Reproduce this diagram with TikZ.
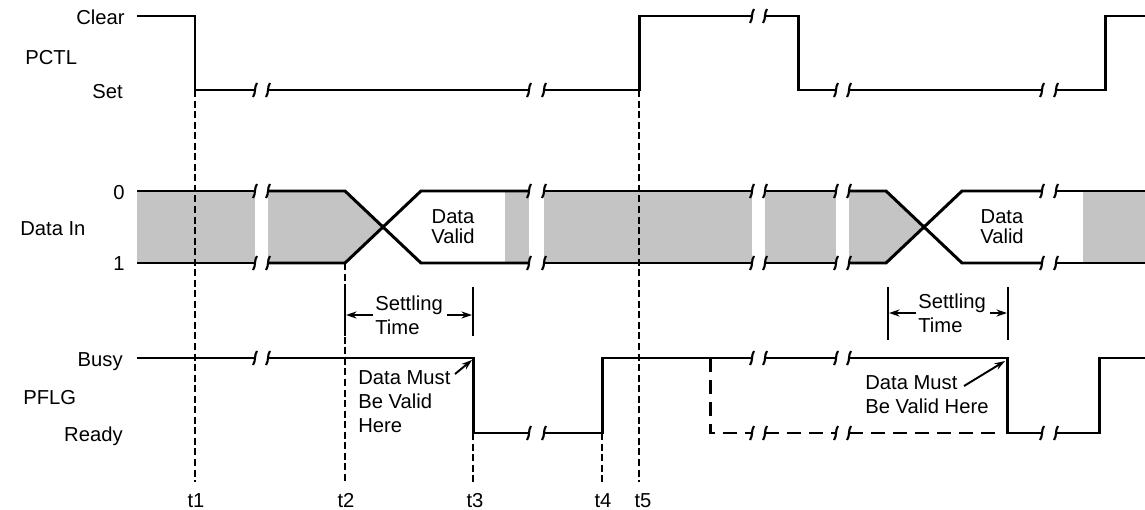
\documentclass[tikz,border=0pt]{standalone}
\usepackage{fontspec}
\setmainfont{Liberation Sans}
\usetikzlibrary{arrows.meta}

% break mark on a signal line
\newcommand{\brk}[2]{\draw[tick] (#1-2,#2+7) .. controls (#1+1,#2+3) and (#1-1,#2-3) .. (#1+2,#2-7);}

\begin{document}
\begin{tikzpicture}[x=0.02cm, y=-0.02cm,
    sig/.style={line width=1.7pt},
    altline/.style={line width=1.7pt, dash pattern=on 8pt off 4.5pt},
    tick/.style={line width=1.2pt},
    timeline/.style={line width=0.6pt, dash pattern=on 4pt off 2pt},
    bar/.style={line width=1.3pt},
    shade/.style={fill=black!23},
    ptr/.style={line width=1.1pt, -{Stealth[length=6pt, width=4pt]}},
    lbl/.style={font=\fontsize{11.5}{13.6}\selectfont, inner sep=0pt, text height=8.2pt, text depth=0pt},
    note/.style={font=\fontsize{11.5}{13.6}\selectfont, inner sep=0pt, align=left}]

        \useasboundingbox (0,0) rectangle (1145,510);

        % Signal names and levels
        \node[lbl, anchor=east] (clear) at (125,17) {Clear};
        \node[lbl, anchor=west] (pctl) at (25,57) {PCTL};
        \node[lbl, anchor=east] (set) at (123,91) {Set};
        \node[lbl, anchor=east] (zero) at (125,192) {0};
        \node[lbl, anchor=west] (datain) at (20,228) {Data In};
        \node[lbl, anchor=east] (one) at (125,263) {1};
        \node[lbl, anchor=east] (busy) at (123,359) {Busy};
        \node[lbl, anchor=west] (pflg) at (23,397) {PFLG};
        \node[lbl, anchor=east] (ready) at (123,434) {Ready};

        % Shaded data (not valid)
        \fill[shade] (137,191) rectangle (255,263);
        \fill[shade] (268,191) -- (345,191) -- (383,227) -- (345,263) -- (268,263) -- cycle;
        \fill[shade] (505,191) rectangle (529,263);
        \fill[shade] (544,191) rectangle (752,263);
        \fill[shade] (765,191) rectangle (836,263);
        \fill[shade] (849,191) -- (886,191) -- (924,227) -- (886,263) -- (849,263) -- cycle;
        \fill[shade] (1083,191) rectangle (1145,263);

        % PCTL
        \draw[sig] (137,16) -- (195,16) -- (195,90) -- (255,90);
        \draw[sig] (268,90) -- (529,90);
        \draw[sig] (544,90) -- (639,90) -- (639,16) -- (752,16);
        \draw[sig] (765,16) -- (798,16) -- (798,90) -- (836,90);
        \draw[sig] (849,90) -- (1042,90);
        \draw[sig] (1056,90) -- (1105,90) -- (1105,16) -- (1145,16);
        \brk{255}{90} \brk{268}{90} \brk{529}{90} \brk{544}{90} \brk{752}{16}
        \brk{765}{16} \brk{836}{90} \brk{849}{90} \brk{1042}{90} \brk{1056}{90}

        % Data In
        \foreach \y in {191,263} {
            \draw[sig] (137,\y) -- (255,\y);
            \draw[sig] (544,\y) -- (752,\y);
            \draw[sig] (765,\y) -- (836,\y);
            \draw[sig] (1056,\y) -- (1145,\y);
            \foreach \x in {255,268,529,544,752,765,836,849,1042,1056} {\brk{\x}{\y}}
        }
        \draw[sig] (268,191) -- (345,191) -- (421,263) -- (529,263);
        \draw[sig] (268,263) -- (345,263) -- (421,191) -- (529,191);
        \draw[sig] (849,191) -- (886,191) -- (962,263) -- (1042,263);
        \draw[sig] (849,263) -- (886,263) -- (962,191) -- (1042,191);
        \node[note, align=center, font=\fontsize{11.5}{11.3}\selectfont] (valida) at (453,227) {Data\\Valid};
        \node[note, align=center, font=\fontsize{11.5}{11.3}\selectfont] (validb) at (1002,227) {Data\\Valid};

        % PFLG
        \draw[sig] (137,358) -- (255,358);
        \draw[sig] (268,358) -- (473,358) -- (473,433) -- (529,433);
        \draw[sig] (544,433) -- (602,433) -- (602,358) -- (752,358);
        \draw[sig] (765,358) -- (836,358);
        \draw[sig] (849,358) -- (1007,358) -- (1007,433) -- (1042,433);
        \draw[sig] (1056,433) -- (1099,433) -- (1099,358) -- (1145,358);
        \brk{255}{358} \brk{268}{358} \brk{529}{433} \brk{544}{433} \brk{752}{358}
        \brk{765}{358} \brk{836}{358} \brk{849}{358} \brk{1042}{433} \brk{1056}{433}
        \draw[altline] (710,358) -- (710,433) -- (752,433); % other case
        \draw[altline] (765,433) -- (836,433);
        \draw[altline] (849,433) -- (1000,433);
        \brk{752}{433} \brk{765}{433} \brk{836}{433} \brk{849}{433}

        % Settling time
        \draw[bar] (345,287) -- (345,336);
        \draw[bar] (473,287) -- (473,336);
        \draw[bar] (888,287) -- (888,340);
        \draw[bar] (1008,287) -- (1008,340);
        \node[note, anchor=west] (settlea) at (375,315) {Settling\\Time};
        \node[note, anchor=west] (settleb) at (918,313) {Settling\\Time};
        \draw[ptr] ([xshift=-1pt]settlea.west) -- (346,315);
        \draw[ptr] ([xshift=2pt]settlea.east) -- (472,315);
        \draw[ptr] ([xshift=-1pt]settleb.west) -- (889,313);
        \draw[ptr] ([xshift=2pt]settleb.east) -- (1007,313);

        % Data must be valid
        \node[note, anchor=north west] (musta) at (358,370) {Data Must\\Be Valid\\Here};
        \node[note, anchor=north west] (mustb) at (865,375) {Data Must\\Be Valid Here};
        \coordinate (cornera) at (472,360);
        \coordinate (cornerb) at (1005,361);
        \coordinate (taila) at (455,374);
        \coordinate (tailb) at (964,386);
        \draw[ptr] (taila) -- (cornera);
        \draw[ptr] (tailb) -- (cornerb);

        % Time marks
        \draw[timeline] (195,90) -- (195,482);
        \draw[timeline] (345,263) -- (345,482);
        \draw[timeline] (473,433) -- (473,482);
        \draw[timeline] (602,433) -- (602,482);
        \draw[timeline] (639,90) -- (639,482);
        \node[lbl] (t1) at (196,500) {t1};
        \node[lbl] (t2) at (346,500) {t2};
        \node[lbl] (t3) at (475,500) {t3};
        \node[lbl] (t4) at (603,500) {t4};
        \node[lbl] (t5) at (643,500) {t5};

    \end{tikzpicture}
\end{document}
